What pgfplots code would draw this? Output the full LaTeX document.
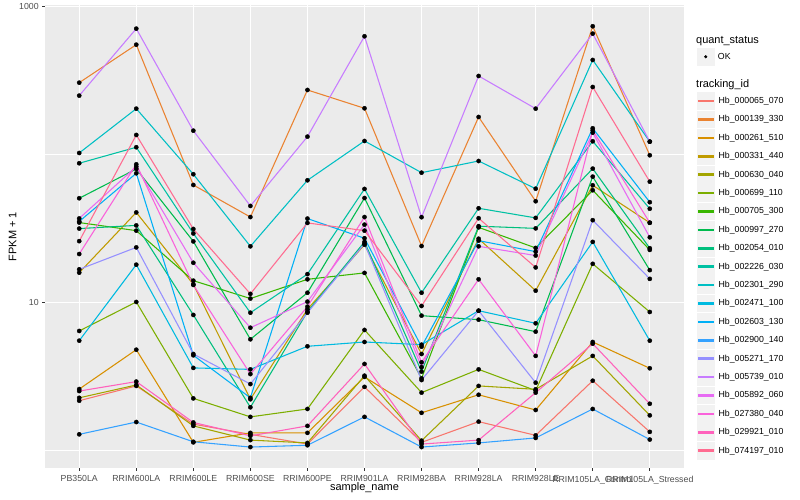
\documentclass[border=0pt]{standalone}
\usepackage{fontspec}
\setmainfont{Liberation Sans}
\usepackage{pgfplots}
\usepackage{pgfplotstable}
\pgfplotsset{compat=1.18}

% ggplot hue palette, 20 levels
\definecolor{c1}{HTML}{F8766D}
\definecolor{c2}{HTML}{EA8331}
\definecolor{c3}{HTML}{D89000}
\definecolor{c4}{HTML}{C09B00}
\definecolor{c5}{HTML}{A3A500}
\definecolor{c6}{HTML}{7CAE00}
\definecolor{c7}{HTML}{39B600}
\definecolor{c8}{HTML}{00BB4E}
\definecolor{c9}{HTML}{00BF7D}
\definecolor{c10}{HTML}{00C1A3}
\definecolor{c11}{HTML}{00BFC4}
\definecolor{c12}{HTML}{00BAE0}
\definecolor{c13}{HTML}{00B0F6}
\definecolor{c14}{HTML}{35A2FF}
\definecolor{c15}{HTML}{9590FF}
\definecolor{c16}{HTML}{C77CFF}
\definecolor{c17}{HTML}{E76BF3}
\definecolor{c18}{HTML}{FA62DB}
\definecolor{c19}{HTML}{FF62BC}
\definecolor{c20}{HTML}{FF6C91}
\definecolor{panelbg}{HTML}{EBEBEB}
\definecolor{ticklab}{HTML}{4D4D4D}
\definecolor{tickcol}{HTML}{333333}
\definecolor{keybg}{HTML}{F2F2F2}

% FPKM + 1, one row per sample, one column per tracking_id
\pgfplotstableread{
x  S1   S2    S3   S4    S5   S6    S7   S8   S9   S10   S11   S12   S13   S14  S15  S16   S17   S18   S19  S20
0  2.16 305.3 2.59 15.86 2.26 6.40  34.6 50.5 31.5 87.1  102.2 5.50  35.2  1.28 16.7 249.5 36.9  21.2  2.51 25.9
1  2.72 551.6 4.78 40.5  2.76 10.05 30.5 79.7 33.1 111.7 203.7 17.96 74.5  1.55 23.5 707.8 82.6  85.7  2.91 135.3
2  1.50 62.1  1.13 13.23 1.46 2.24  14.0 25.8 8.21 29.2  73.4  3.60  4.38  1.14 4.47 144.6 18.5  13.1  1.54 31.3
3  1.28 37.7  1.31 2.21  1.17 1.68  10.6 5.62 1.95 8.50  23.9  3.52  2.26  1.05 2.80 44.8  6.73  3.27  1.25 11.4
4  1.10 272.5 1.31 8.97  1.12 1.90  14.3 11.6 8.64 15.5  66.8  5.04  36.8  1.08 8.50 131.8 10.1  9.34  1.46 34.4
5  2.68 204.9 3.13 24.5  3.19 6.50  15.8 50.7 25.6 58.4  123.2 5.39  27.1  1.68 24.9 628.6 33.5  37.7  3.83 30.5
6  1.13 24.0  1.79 4.47  1.16 2.45  3.06 8.12 3.40 11.6  75.2  5.17  5.01  1.05 2.98 37.6  3.64  3.93  1.10 9.44
7  1.56 179.0 2.37 26.9  2.72 3.52  32.1 7.63 32.7 43.2  90.2  8.77  26.1  1.12 8.77 338.9 23.9  14.3  1.17 37.0
8  1.26 48.2  1.87 11.98 2.58 2.53  23.3 6.33 31.6 37.2  58.6  7.21  22.0  1.21 2.86 203.7 20.7  4.34  2.45 17.2
9  2.95 734.7 5.39 61.8  4.34 18.2  57.2 70.7 80.1 122.6 434.8 25.6  150.1 1.90 35.9 654.8 140.2 145.5 5.25 285.5
10 1.33 98.6  3.58 34.5  1.72 8.60  22.6 16.5 23.2 42.9  121.9 5.50  47.5  1.18 14.4 121.9 27.5  34.5  2.06 65.4
}\fpkm

\begin{document}
\begin{tikzpicture}
\useasboundingbox (0,0) rectangle (800bp,500bp);
\begin{axis}[
    at={(45bp,32bp)}, anchor=south west,
    scale only axis, width=639bp, height=463bp,
    xmin=-0.6, xmax=10.6,
    ymode=log, ymin=0.758, ymax=1023,
    axis background/.style={fill=panelbg},
    axis lines*=left,
    axis line style={draw=none},
    xtick={0,...,10},
    xticklabels={PB350LA,RRIM600LA,RRIM600LE,RRIM600SE,RRIM600PE,RRIM901LA,RRIM928BA,RRIM928LA,RRIM928LE,RRIM105LA\_Control,RRIM105LA\_Stressed},
    ytick={10,1000}, yticklabels={10,1000},
    minor ytick={1,100},
    xmajorgrids, ymajorgrids, yminorgrids,
    major grid style={white, line width=1.07bp},
    minor grid style={white, line width=0.53bp},
    tick align=outside,
    major tick length=2.75bp, minor tick length=0pt,
    tick style={tickcol, line width=1.07bp},
    ticklabel style={font=\fontsize{8.8}{10}\selectfont, text=ticklab},
    xticklabel style={yshift=-1.5bp},
    /pgf/number format/assume math mode=true,
    xlabel={sample\_name}, ylabel={FPKM + 1},
    label style={font=\fontsize{11}{13}\selectfont},
    xlabel style={at={(axis description cs:0.5,-0.0432)}, anchor=center},
    ylabel style={at={(axis description cs:-0.0505,0.5)}, anchor=center},
    legend entries={Hb\_000065\_070,Hb\_000139\_330,Hb\_000261\_510,Hb\_000331\_440,Hb\_000630\_040,Hb\_000699\_110,Hb\_000705\_300,Hb\_000997\_270,Hb\_002054\_010,Hb\_002226\_030,Hb\_002301\_290,Hb\_002471\_100,Hb\_002603\_130,Hb\_002900\_140,Hb\_005271\_170,Hb\_005739\_010,Hb\_005892\_060,Hb\_027380\_040,Hb\_029921\_010,Hb\_074197\_010},
    legend cell align=left,
    legend style={at={(axis description cs:1.0203,0.8121)}, anchor=north west,
        draw=none, fill=none, font=\fontsize{8.8}{10}\selectfont,
        row sep=0.67bp, column sep=3.7bp, inner sep=0pt, nodes={inner sep=0pt}},
    legend image code/.code={
        \fill[keybg] (0bp,-8.33bp) rectangle (16.67bp,8.33bp);
        \begin{scope}[#1]
            \fill (1bp,-0.75bp) rectangle (15.67bp,0.75bp);
        \end{scope}
    },
]
\pgfplotsinvokeforeach{1,...,20}{
    \addplot[color=c#1, line width=1.07bp, mark=none] table[x=x, y=S#1] {\fpkm};
}
\pgfplotsinvokeforeach{1,...,20}{
    \addplot[only marks, mark=*, mark size=2.1bp, black, forget plot] table[x=x, y=S#1] {\fpkm};
}
\end{axis}

% quant_status legend
\begin{axis}[
    at={(45bp,32bp)}, anchor=south west,
    scale only axis, width=639bp, height=463bp,
    hide axis, xmin=0, xmax=1, ymin=0, ymax=1,
    legend style={at={(axis description cs:1.0203,0.9071)}, anchor=north west,
        draw=none, fill=none, font=\fontsize{8.8}{10}\selectfont,
        column sep=3.7bp, inner sep=0pt, nodes={inner sep=0pt}},
    legend image code/.code={
        \fill[keybg] (0bp,-8.33bp) rectangle (16.67bp,8.33bp);
        \draw[#1] plot coordinates {(8.33bp,0bp)};
    },
]
\addlegendimage{only marks, mark=*, mark size=1.4bp, black}
\addlegendentry{OK}
\end{axis}

\node[anchor=west, inner sep=0pt, font=\fontsize{11}{13}\selectfont] at (696bp,459.3bp) {quant\_status};
\node[anchor=west, inner sep=0pt, font=\fontsize{11}{13}\selectfont] at (696bp,415.7bp) {tracking\_id};
\end{tikzpicture}
\end{document}
